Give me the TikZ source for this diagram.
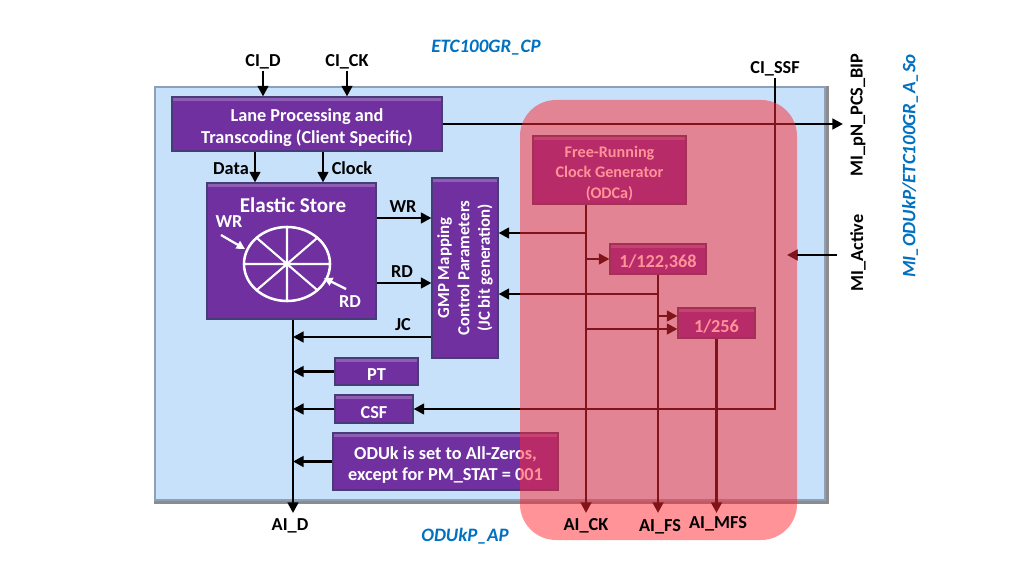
\documentclass[tikz,border=0pt]{standalone}
\usepackage{fontspec}
\setmainfont{Carlito}
\usetikzlibrary{arrows.meta,fit,calc}
\definecolor{pbox}{RGB}{112,48,160}
\definecolor{pborder}{RGB}{70,60,120}
\definecolor{bluebg}{RGB}{200,225,250}
\definecolor{blueborder}{RGB}{140,160,185}
\definecolor{ovl}{RGB}{255,40,50}
\definecolor{titleblue}{RGB}{0,112,192}
\tikzset{
  box/.style={fit={#1}, inner sep=0pt, fill=pbox, draw=pborder, line width=0.8pt,
    path picture={\fill[white,opacity=0.22] (path picture bounding box.north west) rectangle ([yshift=-2.5pt]path picture bounding box.north east);}},
  btxt/.style={text=white, font=\fontsize{13}{15.5}\selectfont\bfseries, align=center, inner sep=0pt, yshift=-2.5pt},
  lbl/.style={font=\fontsize{13}{15}\selectfont\bfseries, text=black, inner sep=1pt},
  ttl/.style={font=\fontsize{13.5}{16}\selectfont\bfseries\itshape, text=titleblue, inner sep=1pt},
  arr/.style={line width=2.1pt, -{Triangle[length=7.5pt,width=7.5pt]}},
  warr/.style={line width=1.6pt, white, -{Triangle[length=6pt,width=6pt]}},
}
\begin{document}
\begin{tikzpicture}[x=0.025cm,y=-0.025cm]
\useasboundingbox (0,0) rectangle (1024,576);
% background application box
\node[fit={(155,87)(825,500)}, inner sep=0pt, fill=bluebg, draw=blueborder, line width=1.2pt] (ap) {};
\draw[line width=1.5pt, black!45] ([xshift=1.2pt]ap.north east) -- ([xshift=1.2pt,yshift=-1.2pt]ap.south east) -- ([yshift=-1.2pt]ap.south west);
% titles
\node[ttl] (etc) at (486,48) {ETC100GR\_CP};
\node[ttl] (odukp) at (465,536) {ODUkP\_AP};
\node[ttl, rotate=90] (mi) at (910,166) {MI\_ODUkP/ETC100GR\_A\_So};
% coordinates
\coordinate (xdata) at (255,0);
\coordinate (xclock) at (323,0);
\coordinate (bus) at (293,0);
\coordinate (yWR) at (0,218);
\coordinate (yRD) at (0,283);
\coordinate (yJC) at (0,337);
\coordinate (xclk) at (586,0);
\coordinate (y233) at (0,233);
\coordinate (y294) at (0,294);
\coordinate (y316) at (0,316);
\coordinate (y329) at (0,329);
\coordinate (yAI) at (0,513);
\coordinate (mipnend) at (843,124);
\coordinate (miastart) at (837,255);
\coordinate (miaend) at (787,255);
% boxes
\node[box={(172,97)(442,151)}] (lane) {};
\node[btxt] (laneT) at (lane.center) {Lane Processing and\\Transcoding (Client Specific)};
\node[box={(207,183)(376,319)}] (es) {};
\node[box={(432,178)(498,358)}] (gmp) {};
\node[box={(335,358)(418,385)}] (pt) {};
\node[btxt] (ptT) at (pt.center) {PT};
\node[box={(335,395)(413,423)}] (csf) {};
\node[btxt] (csfT) at (csf.center) {CSF};
\node[box={(333,433)(558,490)}] (oduk) {};
\node[btxt] (odukT) at (oduk.center) {ODUk is set to All-Zeros,\\except for PM\_STAT = 001};
\node[box={(533,136)(686,204)}] (frc) {};
\node[btxt, font=\fontsize{11.5}{14.5}\selectfont\bfseries] (frcT) at (frc.center) {Free-Running\\Clock Generator\\(ODCa)};
\node[box={(610,244)(706,274)}] (div1) {};
\node[btxt] (div1T) at (div1.center) {1/122,368};
\node[box={(678,308)(755,338)}] (div2) {};
\node[btxt] (div2T) at (div2.center) {1/256};
% elastic store contents
\node[font=\fontsize{15}{18}\selectfont\bfseries, text=white] (est) at (293,205) {Elastic Store};
\draw[white, line width=1.8pt] (287,264) ellipse [x radius=1.075cm, y radius=0.925cm];
\draw[white, line width=1.5pt] (244,264) -- (330,264) (287,227) -- (287,301)
  ($(287,264)+(-30.4,-26.2)$) -- ($(287,264)+(30.4,26.2)$)
  ($(287,264)+(-30.4,26.2)$) -- ($(287,264)+(30.4,-26.2)$);
\node[lbl, text=white] (eswr) at (229,222) {WR};
\node[lbl, text=white] (esrd) at (350,302) {RD};
\coordinate (wa1) at (221,235); \coordinate (wa2) at (245,249);
\coordinate (ra1) at (346,289); \coordinate (ra2) at (324,278);
\draw[warr] (wa1) -- (wa2);
\draw[warr] (ra1) -- (ra2);
% GMP text
\node[rotate=90, text=white, font=\fontsize{12}{14.5}\selectfont\bfseries, align=center] (gmpt) at (gmp.center) {GMP Mapping\\Control Parameters\\(JC bit generation)};
% labels
\node[lbl] (cid) at (263,62) {CI\_D};
\node[lbl] (cick) at (347,62) {CI\_CK};
\node[lbl] (cissf) at (775,69) {CI\_SSF};
\node[lbl] (data) at (231,169) {Data};
\node[lbl] (clock) at (352,168) {Clock};
\node[lbl] (wrl) at (403,207) {WR};
\node[lbl] (rdl) at (402,272) {RD};
\node[lbl] (jcl) at (403,325) {JC};
\node[lbl] (aid) at (290,526) {AI\_D};
\node[lbl, rotate=90] (mipn) at (858,115) {MI\_pN\_PCS\_BIP};
\node[lbl, rotate=90] (miact) at (858,253) {MI\_Active};
% connectors
\draw[arr] (cid.south) -- (cid.south |- lane.north);
\draw[arr] (cick.south) -- (cick.south |- lane.north);
\draw[arr] (lane.south -| xdata) -- (es.north -| xdata);
\draw[arr] (lane.south -| xclock) -- (es.north -| xclock);
\draw[arr] (es.east |- yWR) -- (gmp.west |- yWR);
\draw[arr] (es.east |- yRD) -- (gmp.west |- yRD);
\draw[arr] (gmp.west |- yJC) -- (bus |- yJC);
\draw[arr] (es.south -| bus) -- (bus |- yAI);
\draw[arr] (pt.west) -- (pt.west -| bus);
\draw[arr] (csf.west) -- (csf.west -| bus);
\draw[arr] (oduk.west) -- (oduk.west -| bus);
\draw[arr] (cissf.south) -- (cissf.south |- csf.east) -- (csf.east);
\draw[arr] (lane.east) -- (mipnend);
\draw[arr] (miastart) -- (miaend);
\draw[arr] (frc.south -| xclk) -- (xclk |- yAI);
\draw[arr] (xclk |- y233) -- (gmp.east |- y233);
\draw[arr] (xclk |- div1.west) -- (div1.west);
\draw[arr] (div1.south) -- (div1.south |- yAI);
\draw[arr] (div1.south |- y294) -- (gmp.east |- y294);
\draw[arr] (div1.south |- y316) -- (div2.west |- y316);
\draw[arr] (xclk |- y329) -- (div2.west |- y329);
\draw[arr] (div2.south) -- (div2.south |- yAI);
% overlay
\node[fit={(520,100)(797,540)}, inner sep=0pt, fill=ovl, fill opacity=0.5, rounded corners=0.9cm] (ovr) {};
\node[lbl] (aick) at (586,526) {AI\_CK};
\node[lbl] (aifs) at (660,527) {AI\_FS};
\node[lbl] (aimfs) at (718,524) {AI\_MFS};
\end{tikzpicture}
\end{document}
